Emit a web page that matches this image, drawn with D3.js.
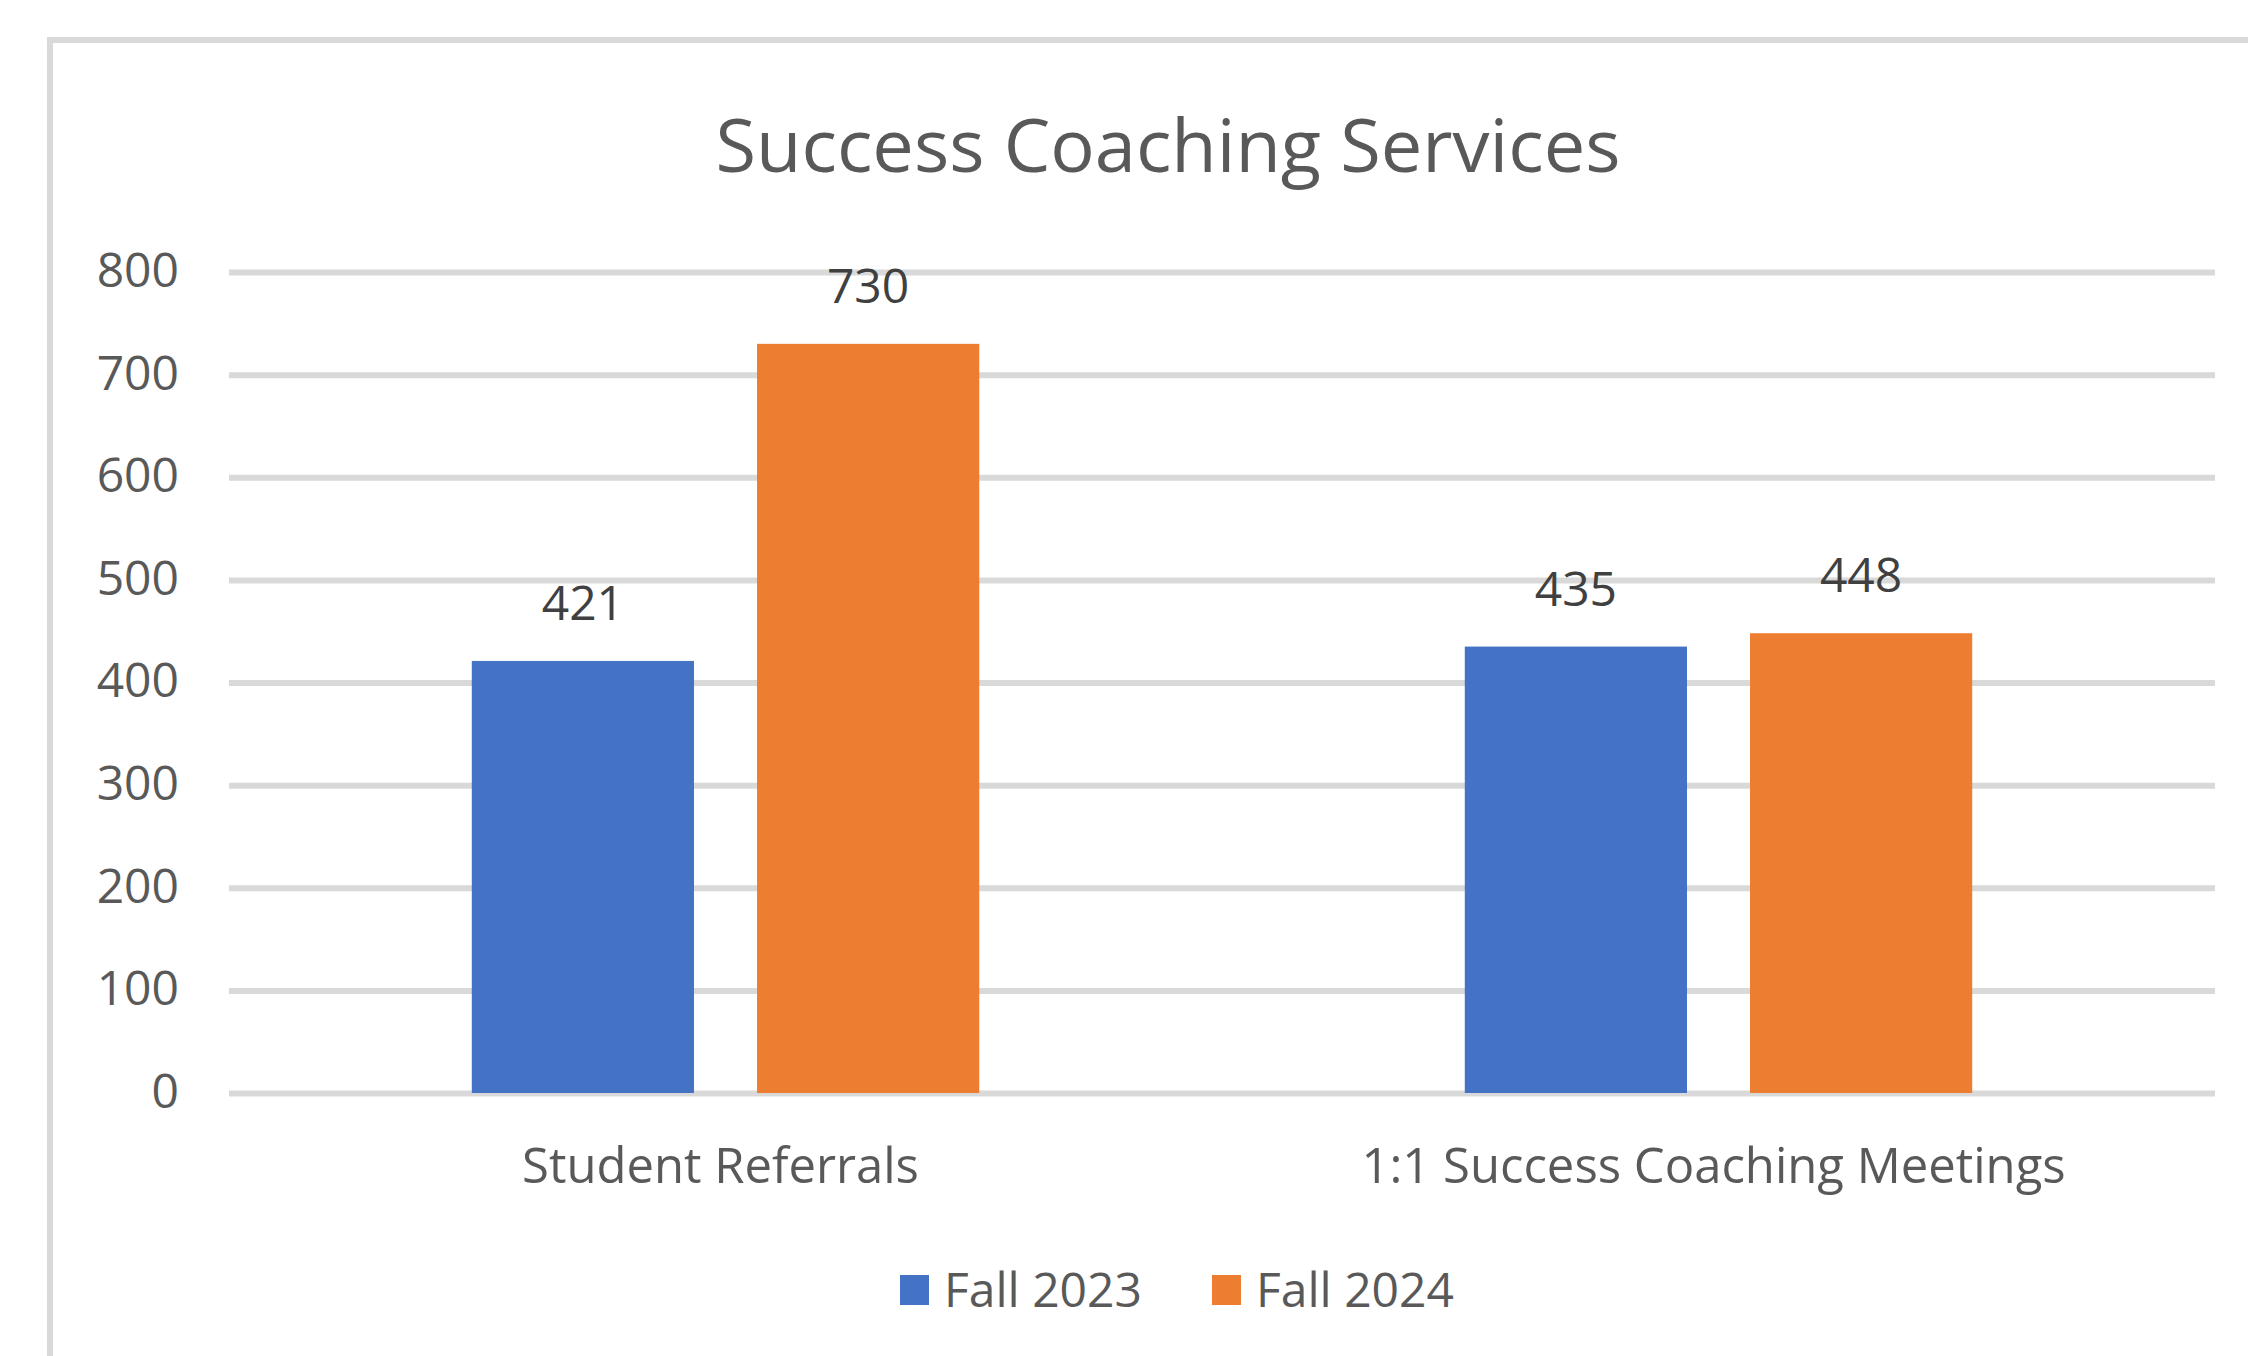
<!DOCTYPE html>
<meta charset="utf-8">
<script src="https://d3js.org/d3.v7.min.js"></script>
<style>
    body { margin: 0; background: #fff; }
    text { font-family: "Open Sans", sans-serif; }
</style>
<div id="chart"></div>
<script>
    var width = 2248
    var height = 1356

    // data
    var categories = ["Student Referrals", "1:1 Success Coaching Meetings"]
    var seriesNames = ["Fall 2023", "Fall 2024"]
    var fall2023 = [421, 435]
    var fall2024 = [730, 448]
    var yTicks = [0, 100, 200, 300, 400, 500, 600, 700, 800]
    var colors = ["#4472C4", "#ED7D31"]

    var rows = categories.map(function (c, i) {
        return { category: c, values: [fall2023[i], fall2024[i]] }
    })

    var plot = { left: 229, right: 2215, top: 272, bottom: 1093 }

    var svg = d3.select("#chart")
        .append("svg")
        .attr("width", width)
        .attr("height", height)

    // chart frame (runs off the right and bottom edge)
    svg.append("rect")
        .attr("x", 50)
        .attr("y", 40)
        .attr("width", 2400)
        .attr("height", 1500)
        .attr("fill", "#fff")
        .attr("stroke", "#d9d9d9")
        .attr("stroke-width", 6)

    var x0 = d3.scaleBand()
        .domain(categories)
        .range([plot.left, plot.right])
        .paddingInner(0.489)
        .paddingOuter(0.2445)

    var x1 = d3.scaleBand()
        .domain(seriesNames)
        .range([0, x0.bandwidth()])
        .paddingInner(0.221)

    var y = d3.scaleLinear()
        .domain([0, 800])
        .range([plot.bottom, plot.top])

    var color = d3.scaleOrdinal()
        .domain(seriesNames)
        .range(colors)

    // gridlines + y labels
    var yAxis = svg.append("g")
        .attr("transform", "translate(" + plot.left + ",0)")
        .call(d3.axisLeft(y).tickValues(yTicks).tickSize(-(plot.right - plot.left)).tickPadding(50))
    yAxis.select(".domain").remove()
    yAxis.selectAll(".tick line")
        .attr("stroke", "#d9d9d9")
        .attr("stroke-width", 6)
    yAxis.selectAll(".tick text")
        .attr("fill", "#595959")
        .attr("font-size", 48)
        .attr("font-family", "Open Sans")
        .attr("dy", "0.3em")

    // bars
    var groups = svg.append("g")
        .selectAll("g")
        .data(rows)
        .enter()
        .append("g")
        .attr("transform", function (d) { return "translate(" + x0(d.category) + ",0)" })

    var bars = groups.selectAll("rect")
        .data(function (d) {
            return d.values.map(function (v, i) { return { key: seriesNames[i], value: v } })
        })
        .enter()

    bars.append("rect")
        .attr("x", function (d) { return x1(d.key) })
        .attr("y", function (d) { return y(d.value) })
        .attr("width", x1.bandwidth())
        .attr("height", function (d) { return y(0) - y(d.value) })
        .attr("fill", function (d) { return color(d.key) })

    bars.append("text")
        .text(function (d) { return d.value })
        .attr("x", function (d) { return x1(d.key) + x1.bandwidth() / 2 })
        .attr("y", function (d) { return y(d.value) - 41 })
        .attr("text-anchor", "middle")
        .attr("fill", "#404040")
        .attr("font-size", 48)

    // category labels
    svg.append("g")
        .selectAll("text")
        .data(categories)
        .enter()
        .append("text")
        .text(function (d) { return d })
        .attr("x", function (d) { return x0(d) + x0.bandwidth() / 2 - 5 })
        .attr("y", 1183)
        .attr("text-anchor", "middle")
        .attr("fill", "#595959")
        .attr("font-size", 49)

    // title
    svg.append("text")
        .text("Success Coaching Services")
        .attr("x", 1168)
        .attr("y", 172)
        .attr("text-anchor", "middle")
        .attr("fill", "#595959")
        .attr("font-size", 74)

    // legend
    var legendX = [900, 1212]
    var legend = svg.append("g")
        .selectAll("g")
        .data(seriesNames)
        .enter()
        .append("g")
        .attr("transform", function (d, i) { return "translate(" + legendX[i] + ",1275)" })

    legend.append("rect")
        .attr("width", 29)
        .attr("height", 30)
        .attr("fill", function (d) { return color(d) })

    legend.append("text")
        .text(function (d) { return d })
        .attr("x", 44)
        .attr("y", 32)
        .attr("fill", "#595959")
        .attr("font-size", 48)
</script>
